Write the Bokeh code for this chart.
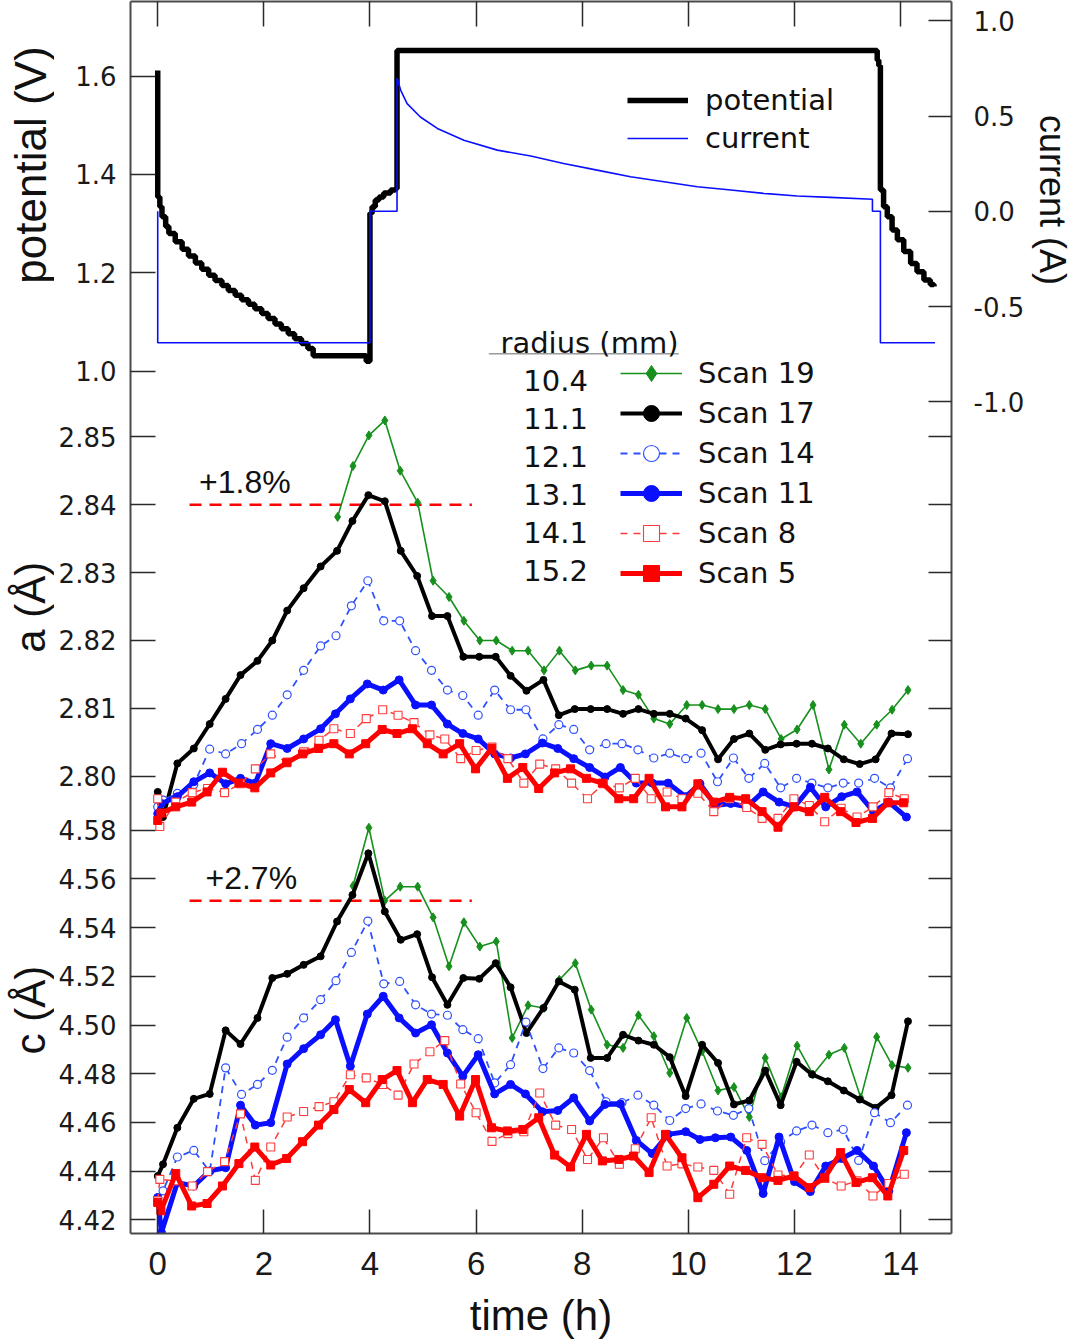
import math
from bokeh.plotting import figure
from bokeh.layouts import row
from bokeh.models import Range1d, LinearAxis, FixedTicker, Legend, LegendItem, Label
from bokeh.embed import file_html
from bokeh.resources import INLINE

# ---------------- data ----------------
x_ticks = [0, 2, 4, 6, 8, 10, 12, 14]
pot_ticks = [1.0, 1.2, 1.4, 1.6]
cur_ticks = [1.0, 0.5, 0.0, -0.5, -1.0]
a_ticks = [2.80, 2.81, 2.82, 2.83, 2.84, 2.85]
c_ticks = [4.42, 4.44, 4.46, 4.48, 4.50, 4.52, 4.54, 4.56, 4.58]

pot_t = [0.0, 0.0, 0.04, 0.08, 0.15, 0.21, 0.33, 0.46, 0.58, 0.71, 0.83, 0.96, 1.08, 1.21, 1.33, 1.46,
         1.58, 1.71, 1.83, 1.96, 2.08, 2.21, 2.33, 2.46, 2.58, 2.71, 2.83, 2.93, 3.93, 4.0, 4.04, 4.1,
         4.17, 4.26, 4.39, 4.48, 4.51, 13.50, 13.56, 13.59, 13.62, 13.68, 13.75, 13.84, 13.94, 14.06,
         14.19, 14.31, 14.44, 14.56, 14.63]
pot_v = [1.611, 1.354, 1.334, 1.314, 1.294, 1.280, 1.263, 1.248, 1.234, 1.220, 1.207, 1.195, 1.184, 1.174,
         1.164, 1.154, 1.145, 1.136, 1.127, 1.117, 1.107, 1.096, 1.086, 1.076, 1.066, 1.056, 1.046, 1.031,
         1.020, 1.321, 1.334, 1.348, 1.354, 1.362, 1.368, 1.371, 1.652, 1.652, 1.632, 1.621, 1.368, 1.334,
         1.314, 1.287, 1.267, 1.243, 1.219, 1.202, 1.185, 1.176, 1.172]

cur_t = [0.0, 0.0, 4.0, 4.0, 4.51, 4.51, 4.58, 4.70, 4.95, 5.27, 5.77, 6.40, 7.03, 7.65, 8.28, 8.91,
         9.54, 10.17, 10.80, 11.42, 12.05, 12.68, 13.47, 13.47, 13.62, 13.62, 14.65]
cur_v = [0.0, -0.69, -0.69, 0.0, 0.0, 0.70, 0.635, 0.565, 0.495, 0.435, 0.373, 0.321, 0.290, 0.251,
         0.216, 0.181, 0.155, 0.129, 0.112, 0.094, 0.080, 0.073, 0.063, 0.0, 0.0, -0.69, -0.69]

# Scan 19 (r = 10.4 mm)
t19 = [3.39, 3.68, 3.98, 4.28, 4.57, 4.90, 5.19, 5.49, 5.77, 6.07, 6.38, 6.68, 6.98, 7.28, 7.57, 7.87,
       8.17, 8.47, 8.77, 9.06, 9.35, 9.65, 9.97, 10.26, 10.56, 10.86, 11.15, 11.45, 11.75, 12.05, 12.35,
       12.65, 12.94, 13.25, 13.55, 13.84, 14.14]
a19 = [2.8382, 2.8457, 2.8502, 2.8524, 2.8450, 2.8403, 2.8288, 2.8264, 2.8229, 2.8200, 2.8200, 2.8185,
       2.8185, 2.8156, 2.8185, 2.8156, 2.8163, 2.8163, 2.8127, 2.8120, 2.8085, 2.8077, 2.8105, 2.8105,
       2.8099, 2.8099, 2.8105, 2.8099, 2.8055, 2.8069, 2.8105, 2.8010, 2.8076, 2.8048, 2.8076, 2.8098, 2.8127]
t19c = t19[1:]
c19 = [4.5571, 4.5810, 4.5511, 4.5568, 4.5568, 4.5442, 4.5241, 4.5422, 4.5322, 4.5343, 4.4947, 4.5081,
       4.5070, 4.5186, 4.5254, 4.5063, 4.4919, 4.4906, 4.5040, 4.4954, 4.4803, 4.5029, 4.4892, 4.4731,
       4.4745, 4.4622, 4.4865, 4.4704, 4.4915, 4.4797, 4.4878, 4.4906, 4.4701, 4.4951, 4.4835, 4.4824]

# Scan 17 (r = 11.1 mm)
t17 = [0.0, 0.1, 0.37, 0.68, 0.98, 1.28, 1.56, 1.88, 2.16, 2.44, 2.75, 3.07, 3.38, 3.67, 3.97, 4.28,
       4.58, 4.89, 5.17, 5.46, 5.76, 6.06, 6.37, 6.65, 6.95, 7.27, 7.56, 7.86, 8.16, 8.47, 8.77, 9.06,
       9.35, 9.65, 9.95, 10.26, 10.56, 10.86, 11.15, 11.45, 11.74, 12.04, 12.33, 12.63, 12.93, 13.23,
       13.53, 13.83, 14.14]
a17 = [2.7977, 2.7940, 2.8019, 2.8041, 2.8077, 2.8114, 2.8149, 2.8170, 2.8200, 2.8244, 2.8277, 2.8309,
       2.8332, 2.8376, 2.8414, 2.8405, 2.8332, 2.8295, 2.8236, 2.8236, 2.8176, 2.8176, 2.8176, 2.8148,
       2.8126, 2.8142, 2.8090, 2.8099, 2.8099, 2.8099, 2.8092, 2.8099, 2.8092, 2.8092, 2.8085, 2.8068,
       2.8025, 2.8055, 2.8063, 2.8039, 2.8047, 2.8048, 2.8048, 2.8041, 2.8025, 2.8018, 2.8025, 2.8063, 2.8062]
c17 = [4.4380, 4.4428, 4.4578, 4.4697, 4.4717, 4.4978, 4.4922, 4.5029, 4.5193, 4.5210, 4.5247, 4.5282,
       4.5425, 4.5534, 4.5705, 4.5466, 4.5350, 4.5373, 4.5196, 4.5083, 4.5193, 4.5190, 4.5254, 4.5155,
       4.4967, 4.5070, 4.5179, 4.5145, 4.4865, 4.4865, 4.4960, 4.4936, 4.4919, 4.4868, 4.4708, 4.4919,
       4.4844, 4.4674, 4.4690, 4.4813, 4.4671, 4.4849, 4.4797, 4.4769, 4.4731, 4.4694, 4.4660, 4.4712, 4.5015]

# Scan 14 (r = 12.1 mm)
t14 = [0.0, 0.1, 0.37, 0.68, 0.98, 1.28, 1.58, 1.88, 2.16, 2.44, 2.75, 3.07, 3.36, 3.65, 3.96, 4.26,
       4.56, 4.86, 5.16, 5.46, 5.75, 6.04, 6.35, 6.65, 6.94, 7.26, 7.56, 7.84, 8.14, 8.45, 8.75, 9.05,
       9.35, 9.65, 9.95, 10.24, 10.55, 10.85, 11.14, 11.44, 11.74, 12.04, 12.33, 12.63, 12.92, 13.21,
       13.51, 13.81, 14.13]
a14 = [2.7955, 2.7965, 2.7975, 2.7988, 2.8040, 2.8033, 2.8048, 2.8069, 2.8090, 2.8120, 2.8156, 2.8192,
       2.8207, 2.8251, 2.8288, 2.8229, 2.8229, 2.8185, 2.8156, 2.8127, 2.8119, 2.8090, 2.8127, 2.8098,
       2.8098, 2.8055, 2.8076, 2.8069, 2.8039, 2.8048, 2.8048, 2.8039, 2.8027, 2.8034, 2.8026, 2.8034,
       2.7992, 2.8027, 2.7997, 2.8019, 2.7983, 2.7997, 2.7990, 2.7983, 2.7990, 2.7990, 2.7997, 2.7983, 2.8026]
c14 = [4.4291, 4.4319, 4.4458, 4.4485, 4.4398, 4.4824, 4.4715, 4.4756, 4.4814, 4.4950, 4.5029, 4.5104,
       4.5182, 4.5298, 4.5427, 4.5169, 4.5179, 4.5083, 4.5045, 4.5040, 4.4981, 4.4944, 4.4762, 4.4837,
       4.5012, 4.4821, 4.4906, 4.4885, 4.4813, 4.4685, 4.4681, 4.4712, 4.4671, 4.4608, 4.4657, 4.4676,
       4.4647, 4.4629, 4.4657, 4.4443, 4.4520, 4.4565, 4.4589, 4.4558, 4.4571, 4.4444, 4.4640, 4.4599, 4.4671]

# Scan 11 (r = 13.1 mm)
t11 = [0.0, 0.07, 0.37, 0.68, 0.98, 1.28, 1.56, 1.84, 2.13, 2.44, 2.75, 3.07, 3.35, 3.63, 3.95, 4.25,
       4.55, 4.86, 5.16, 5.46, 5.75, 6.04, 6.35, 6.65, 6.93, 7.25, 7.54, 7.84, 8.14, 8.43, 8.72, 9.02,
       9.32, 9.62, 9.95, 10.22, 10.51, 10.80, 11.10, 11.41, 11.71, 12.00, 12.30, 12.59, 12.89, 13.18,
       13.49, 13.78, 14.11]
a11 = [2.7945, 2.7960, 2.7970, 2.7992, 2.8005, 2.7989, 2.7997, 2.7990, 2.8048, 2.8041, 2.8055, 2.8070,
       2.8092, 2.8114, 2.8136, 2.8127, 2.8142, 2.8105, 2.8105, 2.8077, 2.8063, 2.8055, 2.8033, 2.8027,
       2.8033, 2.8049, 2.8041, 2.8026, 2.8013, 2.7999, 2.8013, 2.7990, 2.7990, 2.7990, 2.7970, 2.7989,
       2.7957, 2.7960, 2.7955, 2.7977, 2.7962, 2.7955, 2.7984, 2.7955, 2.7970, 2.7977, 2.7948, 2.7962, 2.7940]
c11 = [4.4291, 4.4148, 4.4353, 4.4339, 4.4401, 4.4414, 4.4671, 4.4589, 4.4599, 4.4840, 4.4903, 4.4960,
       4.5022, 4.4831, 4.5045, 4.5118, 4.5029, 4.4967, 4.5001, 4.4885, 4.4790, 4.4878, 4.4717, 4.4756,
       4.4717, 4.4644, 4.4649, 4.4701, 4.4606, 4.4674, 4.4676, 4.4526, 4.4472, 4.4551, 4.4562, 4.4530,
       4.4537, 4.4540, 4.4485, 4.4308, 4.4540, 4.4357, 4.4316, 4.4421, 4.4452, 4.4485, 4.4421, 4.4319, 4.4558]

# Scan 8 (r = 14.1 mm)
t8 = [0.0, 0.04, 0.34, 0.65, 0.94, 1.26, 1.56, 1.84, 2.13, 2.44, 2.75, 3.04, 3.32, 3.63, 3.93, 4.24,
      4.53, 4.83, 5.13, 5.41, 5.71, 6.0, 6.3, 6.6, 6.9, 7.2, 7.5, 7.8, 8.1, 8.4, 8.7, 9.0, 9.3, 9.6,
      9.88, 10.18, 10.48, 10.78, 11.10, 11.39, 11.69, 11.99, 12.28, 12.57, 12.88, 13.18, 13.48, 13.78, 14.07]
a8 = [2.7967, 2.7926, 2.7962, 2.7976, 2.7982, 2.7976, 2.7989, 2.8011, 2.8033, 2.8021, 2.8036, 2.8053,
      2.8070, 2.8063, 2.8085, 2.8098, 2.8090, 2.8079, 2.8061, 2.8055, 2.8026, 2.8038, 2.8043, 2.8026,
      2.7990, 2.8018, 2.8011, 2.7990, 2.7967, 2.7989, 2.7983, 2.7997, 2.7967, 2.7977, 2.7967, 2.7975,
      2.7948, 2.7967, 2.7954, 2.7938, 2.7938, 2.7967, 2.7957, 2.7933, 2.7953, 2.7940, 2.7955, 2.7976, 2.7967]
c8 = [4.4278, 4.4366, 4.4360, 4.4339, 4.4398, 4.4439, 4.4635, 4.4362, 4.4499, 4.4622, 4.4645, 4.4665,
      4.4685, 4.4796, 4.4783, 4.4756, 4.4712, 4.4840, 4.4890, 4.4936, 4.4758, 4.4640, 4.4522, 4.4554,
      4.4562, 4.4721, 4.4589, 4.4571, 4.4448, 4.4537, 4.4428, 4.4492, 4.4619, 4.4421, 4.4430, 4.4417,
      4.4403, 4.4305, 4.4537, 4.4510, 4.4384, 4.4380, 4.4466, 4.4370, 4.4339, 4.4360, 4.4298, 4.4349, 4.4387]

# Scan 5 (r = 15.2 mm)
t5 = [0.0, 0.06, 0.34, 0.64, 0.93, 1.22, 1.53, 1.83, 2.13, 2.43, 2.73, 3.03, 3.32, 3.61, 3.92, 4.23,
      4.51, 4.80, 5.08, 5.38, 5.69, 5.99, 6.29, 6.59, 6.88, 7.18, 7.48, 7.78, 8.08, 8.38, 8.69, 8.97,
      9.26, 9.57, 9.88, 10.18, 10.48, 10.78, 11.08, 11.39, 11.69, 11.99, 12.28, 12.57, 12.87, 13.16,
      13.47, 13.76, 14.06]
a5 = [2.7935, 2.7946, 2.7955, 2.7962, 2.7977, 2.8006, 2.7990, 2.7983, 2.8005, 2.8020, 2.8033, 2.8041,
      2.8048, 2.8033, 2.8048, 2.8069, 2.8063, 2.8070, 2.8048, 2.8033, 2.8048, 2.8011, 2.8041, 2.7997,
      2.8013, 2.7982, 2.8005, 2.8011, 2.7997, 2.7990, 2.7967, 2.7967, 2.7997, 2.7955, 2.7955, 2.7989,
      2.7962, 2.7969, 2.7967, 2.7948, 2.7925, 2.7955, 2.7948, 2.7969, 2.7948, 2.7932, 2.7938, 2.7961, 2.7961]
c5 = [4.4271, 4.4237, 4.4390, 4.4257, 4.4267, 4.4339, 4.4431, 4.4499, 4.4425, 4.4452, 4.4521, 4.4589,
      4.4653, 4.4735, 4.4681, 4.4776, 4.4813, 4.4681, 4.4776, 4.4756, 4.4626, 4.4776, 4.4578, 4.4565,
      4.4571, 4.4619, 4.4466, 4.4417, 4.4551, 4.4442, 4.4448, 4.4462, 4.4394, 4.4551, 4.4455, 4.4291,
      4.4346, 4.4421, 4.4403, 4.4373, 4.4362, 4.4380, 4.4332, 4.4373, 4.4476, 4.4353, 4.4373, 4.4298, 4.4485]

radii = ["10.4", "11.1", "12.1", "13.1", "14.1", "15.2"]
scan_names = ["Scan 19", "Scan 17", "Scan 14", "Scan 11", "Scan 8", "Scan 5"]

a_ref, a_ref_text = 2.84, "+1.8%"
c_ref, c_ref_text = 4.551, "+2.7%"
ref_span = [0.6, 5.92]

# ---------------- styles / layout ----------------
TICK_FONT = "DejaVu Sans"
TITLE_FONT = "Liberation Sans"
LEG_FONT = "DejaVu Sans"
GREEN = "#17901d"
BLUE = "#0a10ff"
BLUE_D = "#2f50ff"
RED = "#ff0000"
RED_D = "#ff3a3a"

FRAME_H = 1232
pot_rng = Range1d(-0.7535, 1.7515)
cur_rng = Range1d(-5.365, 1.101)
a_rng = Range1d(2.73268, 2.91409)
c_rng = Range1d(4.41439, 4.92028)
ranges = {"pot": pot_rng, "cur": cur_rng, "a": a_rng, "c": c_rng}

p = figure(frame_width=821, frame_height=FRAME_H,
           min_border_left=76, min_border_right=77, min_border_top=1, min_border_bottom=100,
           x_range=Range1d(-0.513, 14.96), y_range=Range1d(0, 1),
           x_axis_location=None, y_axis_location=None,
           output_backend="svg", toolbar_location=None)
p.extra_y_ranges = ranges
p.outline_line_color = None
p.grid.grid_line_color = None
p.background_fill_color = "white"
p.border_fill_color = "white"


def frac(v, r):
    return round((v - r.start) / (r.end - r.start), 6)


def style_axis(ax, tick_len):
    ax.axis_line_color = "#4a4a4a"
    ax.axis_line_width = 2
    ax.major_tick_line_color = "#2a2a2a"
    ax.major_tick_line_width = 1.5
    ax.major_tick_in = tick_len
    ax.major_tick_out = 0
    ax.minor_tick_line_color = None
    ax.major_label_text_color = "#1a1a1a"


# bottom / top axes
bottom = LinearAxis(ticker=FixedTicker(ticks=x_ticks, minor_ticks=[]), axis_label="time (h)")
style_axis(bottom, 24)
bottom.major_label_text_font = TITLE_FONT
bottom.major_label_text_font_size = "33px"
bottom.major_label_standoff = 18
bottom.axis_label_text_font = TITLE_FONT
bottom.axis_label_text_font_size = "42px"
bottom.axis_label_text_font_style = "normal"
bottom.axis_label_text_color = "#111111"
bottom.axis_label_standoff = 14
p.add_layout(bottom, "below")

top = LinearAxis(ticker=FixedTicker(ticks=x_ticks, minor_ticks=[]))
style_axis(top, 25)
top.major_label_text_font_size = "0px"
top.major_label_standoff = 0
p.add_layout(top, "above")

# left axis: potential, a, c
left_ticks, left_labels = [], {}
for vals, rng, fmt in [(pot_ticks, pot_rng, "{:.1f}"), (a_ticks, a_rng, "{:.2f}"), (c_ticks, c_rng, "{:.2f}")]:
    for v in vals:
        k = frac(v, rng)
        left_ticks.append(k)
        left_labels[k] = fmt.format(v)
left = LinearAxis(ticker=FixedTicker(ticks=left_ticks, minor_ticks=[]), major_label_overrides=left_labels)
style_axis(left, 25)
left.major_label_text_font = TICK_FONT
left.major_label_text_font_size = "26px"
left.major_label_standoff = 14
p.add_layout(left, "left")

# right axis: current (labelled) + panel ticks
right_ticks, right_labels = [], {}
for v in cur_ticks:
    k = frac(v, cur_rng)
    right_ticks.append(k)
    right_labels[k] = "{:.1f}".format(v)
for vals, rng in [(a_ticks, a_rng), (c_ticks, c_rng)]:
    for v in vals:
        k = frac(v, rng)
        right_ticks.append(k)
        right_labels[k] = ""
right = LinearAxis(ticker=FixedTicker(ticks=right_ticks, minor_ticks=[]), major_label_overrides=right_labels)
style_axis(right, 23)
right.major_label_text_font = TICK_FONT
right.major_label_text_font_size = "26px"
right.major_label_standoff = 22
p.add_layout(right, "right")

# ---------------- top panel ----------------
r_pot = p.step(pot_t, pot_v, mode="after", line_width=5.5, line_color="black", y_range_name="pot")
r_cur = p.line(cur_t, cur_v, line_width=1.6, line_color=BLUE, y_range_name="cur")

# ---------------- reference lines ----------------
p.line(ref_span, [a_ref, a_ref], line_color=RED, line_width=2.5, line_dash="12 8", y_range_name="a")
p.line(ref_span, [c_ref, c_ref], line_color=RED, line_width=2.5, line_dash="12 8", y_range_name="c")

# ---------------- lattice parameter series ----------------
series = [
    (t19, a19, t19c, c19, dict(color=GREEN, width=1.6, dash="solid", marker="diamond", size=9, fill=GREEN, lw=1)),
    (t17, a17, t17, c17, dict(color="black", width=4, dash="solid", marker="circle", size=7, fill="black", lw=1)),
    (t14, a14, t14, c14, dict(color=BLUE_D, width=1.8, dash="7 6", marker="circle", size=8, fill="white", lw=1.2)),
    (t11, a11, t11, c11, dict(color=BLUE, width=5, dash="solid", marker="circle", size=8, fill=BLUE, lw=1)),
    (t8, a8, t8, c8, dict(color=RED_D, width=1.5, dash="7 6", marker="square", size=8, fill="white", lw=1.1)),
    (t5, a5, t5, c5, dict(color=RED, width=5, dash="solid", marker="square", size=8, fill=RED, lw=1)),
]

legend_items = []
for name, (ta, av, tc, cv, st) in zip(scan_names, series):
    rl = p.line(ta, av, line_color=st["color"], line_width=st["width"], line_dash=st["dash"], y_range_name="a")
    rm = p.scatter(ta, av, marker=st["marker"], size=st["size"], fill_color=st["fill"],
                   line_color=st["color"], line_width=st["lw"], y_range_name="a")
    p.line(tc, cv, line_color=st["color"], line_width=st["width"], line_dash=st["dash"], y_range_name="c")
    p.scatter(tc, cv, marker=st["marker"], size=st["size"], fill_color=st["fill"],
              line_color=st["color"], line_width=st["lw"], y_range_name="c")
    legend_items.append(LegendItem(label=name, renderers=[rl, rm]))

# ---------------- legends ----------------
def style_legend(lg, gw, gh, standoff):
    lg.glyph_width = gw
    lg.glyph_height = gh
    lg.label_height = gh
    lg.label_standoff = standoff
    lg.spacing = 0
    lg.padding = 0
    lg.margin = 0
    lg.border_line_color = None
    lg.background_fill_alpha = 0
    lg.label_text_font = LEG_FONT
    lg.label_text_font_size = "29px"
    lg.label_text_color = "#111111"


leg_top = Legend(items=[LegendItem(label="potential", renderers=[r_pot]),
                        LegendItem(label="current", renderers=[r_cur])],
                 location=(497, 1076))
style_legend(leg_top, 61, 38, 17)
p.add_layout(leg_top)

leg_scan = Legend(items=legend_items, location=(490, 640))
style_legend(leg_scan, 62, 40, 16)
p.add_layout(leg_scan)

# radius column + header
p.add_layout(Label(x=6.46, y=1.058, y_range_name="pot", text="radius (mm)", text_font=LEG_FONT,
                   text_font_size="29px", text_baseline="middle", text_color="#111111"))
p.segment(x0=[6.24], y0=[1.0355], x1=[9.82], y1=[1.0355], line_color="#9a9a9a", line_width=1.5,
          y_range_name="pot")
for i, r in enumerate(radii):
    p.add_layout(Label(x=6.89, y=2.8583 - i * 0.00561, y_range_name="a", text=r, text_font=LEG_FONT,
                       text_font_size="29px", text_baseline="middle", text_color="#111111"))

# percentage annotations
p.add_layout(Label(x=0.78, y=2.8434, y_range_name="a", text=a_ref_text, text_font="Liberation Sans",
                   text_font_size="32px", text_baseline="middle", text_color="#111111"))
p.add_layout(Label(x=0.90, y=4.5602, y_range_name="c", text=c_ref_text, text_font="Liberation Sans",
                   text_font_size="32px", text_baseline="middle", text_color="#111111"))


# ---------------- side strips for the vertical axis titles ----------------
def strip(width):
    s = figure(frame_width=width, frame_height=FRAME_H, min_border_left=0, min_border_right=0,
               min_border_top=1, min_border_bottom=0, x_range=Range1d(0, 1), y_range=Range1d(0, 1),
               x_axis_location=None, y_axis_location=None, output_backend="svg", toolbar_location=None)
    s.extra_y_ranges = ranges
    s.outline_line_color = None
    s.grid.grid_line_color = None
    s.background_fill_color = "white"
    s.border_fill_color = "white"
    return s


left_strip = strip(54)
right_strip = strip(48)


def title(fig, text, x, y, rng, angle, size):
    fig.add_layout(Label(x=x, y=y, y_range_name=rng, text=text, angle=angle, text_font=TITLE_FONT,
                         text_font_size=size, text_align="center", text_baseline="middle",
                         text_color="#111111"))


title(left_strip, "potential (V)", 0.56, 1.419, "pot", math.pi / 2, "44px")
title(left_strip, "a (Å)", 0.56, 2.8249, "a", math.pi / 2, "42px")
title(left_strip, "c (Å)", 0.56, 4.5061, "c", math.pi / 2, "42px")
title(right_strip, "current (A)", 0.5, 0.059, "cur", -math.pi / 2, "36px")

layout = row(left_strip, p, right_strip)
open("out.html", "w").write(file_html(layout, INLINE))
